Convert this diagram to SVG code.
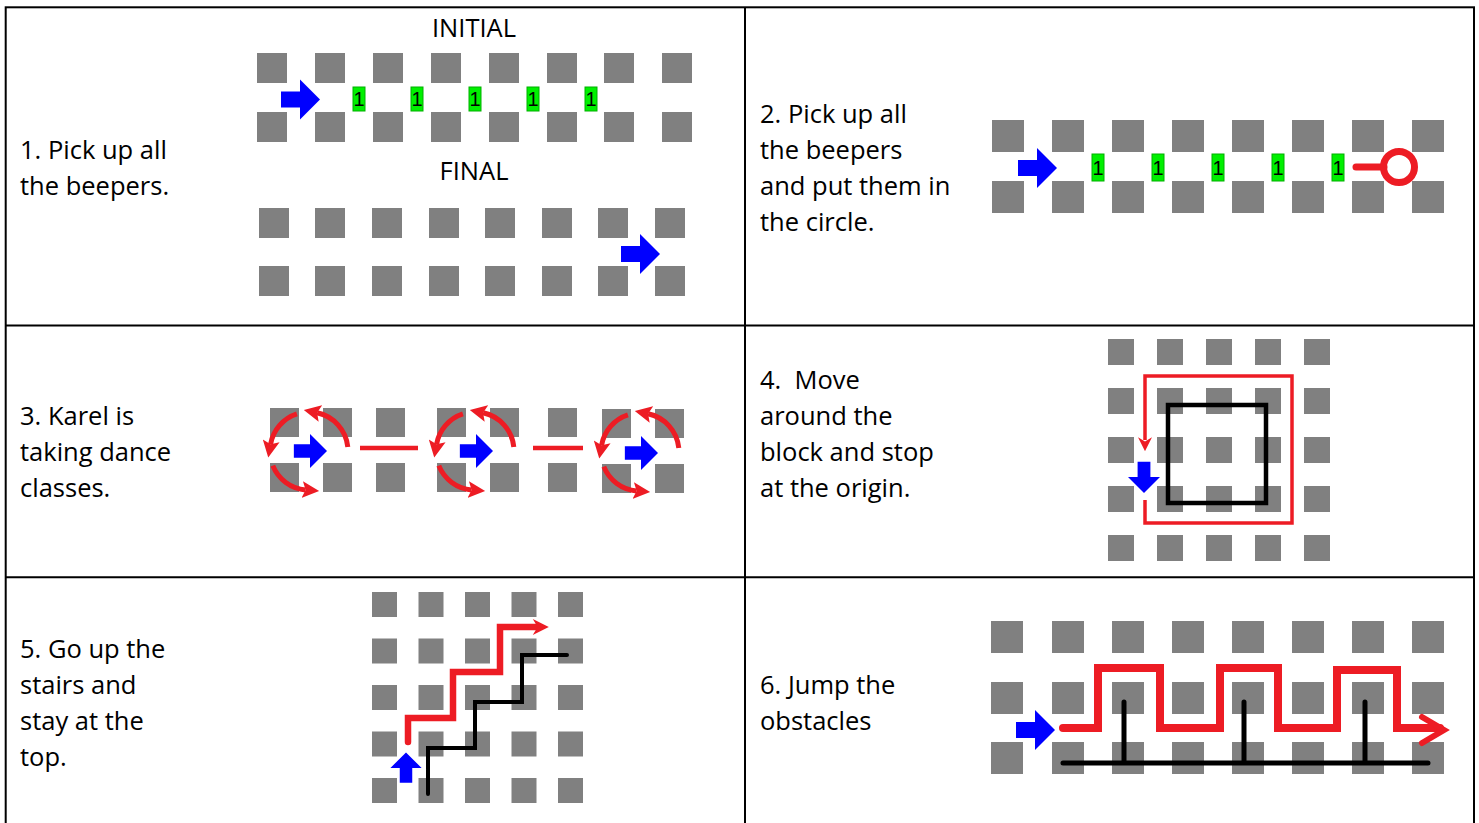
<svg xmlns="http://www.w3.org/2000/svg" width="1479" height="823" viewBox="0 0 1479 823">
<style>
.sq{fill:#808080}
.t{font-family:"Open Sans","Noto Sans",sans-serif;font-size:25.5px;fill:#000;white-space:pre}
.blue{fill:#0000ff;stroke:#fff;stroke-width:5;paint-order:stroke;stroke-linejoin:miter}
.bp{fill:#00f000;stroke:#00b000;stroke-width:1}
.bt{font-family:"Liberation Sans",sans-serif;font-size:20px;fill:#000;text-anchor:middle}
.red{fill:none;stroke:#ed1c24;stroke-linejoin:miter}
.blk{fill:none;stroke:#000;stroke-linecap:round;stroke-linejoin:miter}
.grid{stroke:#000;stroke-width:2;fill:none}
</style>
<defs>
<path id="arr" d="M-19,-8 H0 V-20 L20,0 L0,20 V8 H-19 Z"/>
<rect id="s30" width="30" height="30" class="sq"/>
<rect id="s32" width="32" height="32" class="sq"/>
<rect id="s29" width="29" height="29" class="sq"/>
<rect id="s26" width="26" height="26" class="sq"/>
<rect id="s25" width="25" height="25" class="sq"/>
<marker id="mh" viewBox="0 0 10 10" refX="2" refY="5" markerWidth="17" markerHeight="17" markerUnits="userSpaceOnUse" orient="auto"><path d="M0,0 L10,5 L0,10 L2,5 Z" fill="#ed1c24"/></marker>
<marker id="mh4" viewBox="0 0 10 10" refX="2" refY="5" markerWidth="14" markerHeight="16" markerUnits="userSpaceOnUse" orient="auto"><path d="M0,0 L10,5 L0,10 L3,5 Z" fill="#ed1c24"/></marker>
<marker id="mh5" viewBox="0 0 10 10" refX="2" refY="5" markerWidth="18" markerHeight="16" markerUnits="userSpaceOnUse" orient="auto"><path d="M0,0 L10,5 L0,10 L3,5 Z" fill="#ed1c24"/></marker>
<g id="spin">
<path class="red" stroke-width="5" d="M-12.1,-37.1 A39,39 0 0 0 -38.4,-6.8" marker-end="url(#mh)"/>
<path class="red" stroke-width="5" d="M38.8,-4.1 A39,39 0 0 0 8.1,-38.2" marker-end="url(#mh)"/>
<path class="red" stroke-width="5" d="M-36.2,14.6 A39,39 0 0 0 -3.4,38.9" marker-end="url(#mh)"/>
</g>
</defs>

<g id="table">
<rect class="grid" x="5.7" y="7.3" width="1468.3" height="830"/>
<line class="grid" x1="745" y1="7" x2="745" y2="823"/>
<line class="grid" x1="5" y1="325.5" x2="1475" y2="325.5"/>
<line class="grid" x1="5" y1="577.3" x2="1475" y2="577.3"/>
</g>

<g id="cell1">
<text class="t" x="20" y="159">1. Pick up all</text>
<text class="t" x="20" y="195">the beepers.</text>
<text class="t" x="474" y="37" text-anchor="middle">INITIAL</text>
<text class="t" x="474" y="180" text-anchor="middle">FINAL</text>
<g id="c1-initial">
<use href="#s30" x="257" y="53"/><use href="#s30" x="315" y="53"/><use href="#s30" x="373" y="53"/><use href="#s30" x="431" y="53"/><use href="#s30" x="489" y="53"/><use href="#s30" x="547" y="53"/><use href="#s30" x="604" y="53"/><use href="#s30" x="662" y="53"/>
<use href="#s30" x="257" y="112"/><use href="#s30" x="315" y="112"/><use href="#s30" x="373" y="112"/><use href="#s30" x="431" y="112"/><use href="#s30" x="489" y="112"/><use href="#s30" x="547" y="112"/><use href="#s30" x="604" y="112"/><use href="#s30" x="662" y="112"/>
<use href="#arr" class="blue" transform="translate(300,99.5)"/>
<rect class="bp" x="353" y="87" width="12" height="24"/><text class="bt" x="359" y="106">1</text>
<rect class="bp" x="411" y="87" width="12" height="24"/><text class="bt" x="417" y="106">1</text>
<rect class="bp" x="469" y="87" width="12" height="24"/><text class="bt" x="475" y="106">1</text>
<rect class="bp" x="527" y="87" width="12" height="24"/><text class="bt" x="533" y="106">1</text>
<rect class="bp" x="585" y="87" width="12" height="24"/><text class="bt" x="591" y="106">1</text>
</g>
<g id="c1-final">
<use href="#s30" x="259" y="208"/><use href="#s30" x="315" y="208"/><use href="#s30" x="372" y="208"/><use href="#s30" x="429" y="208"/><use href="#s30" x="485" y="208"/><use href="#s30" x="542" y="208"/><use href="#s30" x="598" y="208"/><use href="#s30" x="655" y="208"/>
<use href="#s30" x="259" y="266"/><use href="#s30" x="315" y="266"/><use href="#s30" x="372" y="266"/><use href="#s30" x="429" y="266"/><use href="#s30" x="485" y="266"/><use href="#s30" x="542" y="266"/><use href="#s30" x="598" y="266"/><use href="#s30" x="655" y="266"/>
<use href="#arr" class="blue" transform="translate(640,254)"/>
</g>
</g>

<g id="cell2">
<text class="t" x="760" y="123">2. Pick up all</text>
<text class="t" x="760" y="159">the beepers</text>
<text class="t" x="760" y="195">and put them in</text>
<text class="t" x="760" y="231">the circle.</text>
<use href="#s32" x="992" y="120"/><use href="#s32" x="1052" y="120"/><use href="#s32" x="1112" y="120"/><use href="#s32" x="1172" y="120"/><use href="#s32" x="1232" y="120"/><use href="#s32" x="1292" y="120"/><use href="#s32" x="1352" y="120"/><use href="#s32" x="1412" y="120"/>
<use href="#s32" x="992" y="181"/><use href="#s32" x="1052" y="181"/><use href="#s32" x="1112" y="181"/><use href="#s32" x="1172" y="181"/><use href="#s32" x="1232" y="181"/><use href="#s32" x="1292" y="181"/><use href="#s32" x="1352" y="181"/><use href="#s32" x="1412" y="181"/>
<use href="#arr" class="blue" transform="translate(1037,168)"/>
<rect class="bp" x="1092" y="154" width="12" height="27"/><text class="bt" x="1098" y="175">1</text>
<rect class="bp" x="1152" y="154" width="12" height="27"/><text class="bt" x="1158" y="175">1</text>
<rect class="bp" x="1212" y="154" width="12" height="27"/><text class="bt" x="1218" y="175">1</text>
<rect class="bp" x="1272" y="154" width="12" height="27"/><text class="bt" x="1278" y="175">1</text>
<rect class="bp" x="1332" y="154" width="12" height="27"/><text class="bt" x="1338" y="175">1</text>
<line class="red" x1="1356" y1="167" x2="1384" y2="167" stroke-width="7" stroke-linecap="round"/>
<circle class="red" cx="1399" cy="167" r="15.5" stroke-width="7"/>
</g>

<g id="cell3">
<text class="t" x="20" y="425">3. Karel is</text>
<text class="t" x="20" y="461">taking dance</text>
<text class="t" x="20" y="497">classes.</text>
<use href="#s29" x="270" y="408"/><use href="#s29" x="323" y="408"/><use href="#s29" x="376" y="408"/><use href="#s29" x="437" y="408"/><use href="#s29" x="490" y="408"/><use href="#s29" x="548" y="408"/><use href="#s29" x="602" y="409"/><use href="#s29" x="655" y="409"/>
<use href="#s29" x="270" y="463"/><use href="#s29" x="323" y="463"/><use href="#s29" x="376" y="463"/><use href="#s29" x="437" y="463"/><use href="#s29" x="490" y="463"/><use href="#s29" x="548" y="463"/><use href="#s29" x="602" y="464"/><use href="#s29" x="655" y="464"/>
<use href="#arr" class="blue" transform="translate(310,451) scale(0.85)"/>
<use href="#arr" class="blue" transform="translate(476,451) scale(0.85)"/>
<use href="#arr" class="blue" transform="translate(641,453) scale(0.85)"/>
<use href="#spin" transform="translate(309,451)"/>
<use href="#spin" transform="translate(475,451)"/>
<use href="#spin" transform="translate(640,452)"/>
<line class="red" x1="360" y1="448" x2="418" y2="448" stroke-width="4.5"/>
<line class="red" x1="533" y1="448" x2="583" y2="448" stroke-width="4.5"/>
</g>

<g id="cell4">
<text class="t" x="760" y="389">4.  Move</text>
<text class="t" x="760" y="425">around the</text>
<text class="t" x="760" y="461">block and stop</text>
<text class="t" x="760" y="497">at the origin.</text>
<use href="#s26" x="1108" y="339"/><use href="#s26" x="1157" y="339"/><use href="#s26" x="1206" y="339"/><use href="#s26" x="1255" y="339"/><use href="#s26" x="1304" y="339"/>
<use href="#s26" x="1108" y="388"/><use href="#s26" x="1157" y="388"/><use href="#s26" x="1206" y="388"/><use href="#s26" x="1255" y="388"/><use href="#s26" x="1304" y="388"/>
<use href="#s26" x="1108" y="437"/><use href="#s26" x="1157" y="437"/><use href="#s26" x="1206" y="437"/><use href="#s26" x="1255" y="437"/><use href="#s26" x="1304" y="437"/>
<use href="#s26" x="1108" y="486"/><use href="#s26" x="1157" y="486"/><use href="#s26" x="1206" y="486"/><use href="#s26" x="1255" y="486"/><use href="#s26" x="1304" y="486"/>
<use href="#s26" x="1108" y="535"/><use href="#s26" x="1157" y="535"/><use href="#s26" x="1206" y="535"/><use href="#s26" x="1255" y="535"/><use href="#s26" x="1304" y="535"/>
<rect x="1168" y="405" width="98" height="98" fill="none" stroke="#000" stroke-width="4.5"/>
<path class="red" stroke-width="3.5" d="M1145,500 V523 H1292 V376 H1145 V440" marker-end="url(#mh4)"/>
<use href="#arr" class="blue" transform="translate(1144,477) rotate(90) scale(0.8)"/>
</g>

<g id="cell5">
<text class="t" x="20" y="658">5. Go up the</text>
<text class="t" x="20" y="694">stairs and</text>
<text class="t" x="20" y="730">stay at the</text>
<text class="t" x="20" y="766">top.</text>
<use href="#s25" x="372" y="592"/><use href="#s25" x="418.5" y="592"/><use href="#s25" x="465" y="592"/><use href="#s25" x="511.5" y="592"/><use href="#s25" x="558" y="592"/>
<use href="#s25" x="372" y="638.5"/><use href="#s25" x="418.5" y="638.5"/><use href="#s25" x="465" y="638.5"/><use href="#s25" x="511.5" y="638.5"/><use href="#s25" x="558" y="638.5"/>
<use href="#s25" x="372" y="685"/><use href="#s25" x="418.5" y="685"/><use href="#s25" x="465" y="685"/><use href="#s25" x="511.5" y="685"/><use href="#s25" x="558" y="685"/>
<use href="#s25" x="372" y="731.5"/><use href="#s25" x="418.5" y="731.5"/><use href="#s25" x="465" y="731.5"/><use href="#s25" x="511.5" y="731.5"/><use href="#s25" x="558" y="731.5"/>
<use href="#s25" x="372" y="778"/><use href="#s25" x="418.5" y="778"/><use href="#s25" x="465" y="778"/><use href="#s25" x="511.5" y="778"/><use href="#s25" x="558" y="778"/>
<path class="blk" stroke-width="4" d="M428,794 V748 H475 V702 H522 V655 H567"/>
<path class="red" stroke-width="6.5" d="M408,742 V718 H453 V672 H500 V627 H536" marker-end="url(#mh5)" stroke-linecap="round"/>
<use href="#arr" class="blue" transform="translate(406,768) rotate(-90) scale(0.78)"/>
</g>

<g id="cell6">
<text class="t" x="760" y="694">6. Jump the</text>
<text class="t" x="760" y="730">obstacles</text>
<use href="#s32" x="991" y="621"/><use href="#s32" x="1052" y="621"/><use href="#s32" x="1112" y="621"/><use href="#s32" x="1172" y="621"/><use href="#s32" x="1232" y="621"/><use href="#s32" x="1292" y="621"/><use href="#s32" x="1352" y="621"/><use href="#s32" x="1412" y="621"/>
<use href="#s32" x="991" y="682"/><use href="#s32" x="1052" y="682"/><use href="#s32" x="1112" y="682"/><use href="#s32" x="1172" y="682"/><use href="#s32" x="1232" y="682"/><use href="#s32" x="1292" y="682"/><use href="#s32" x="1352" y="682"/><use href="#s32" x="1412" y="682"/>
<use href="#s32" x="991" y="742"/><use href="#s32" x="1052" y="742"/><use href="#s32" x="1112" y="742"/><use href="#s32" x="1172" y="742"/><use href="#s32" x="1232" y="742"/><use href="#s32" x="1292" y="742"/><use href="#s32" x="1352" y="742"/><use href="#s32" x="1412" y="742"/>
<path class="blk" stroke-width="5" d="M1063,763 H1428 M1124,702 V763 M1244,702 V763 M1365,702 V763"/>
<path class="red" stroke-width="8" d="M1063,728 H1098 V668 H1160 V728 H1220 V668 H1278 V728 H1337 V670 H1397 V728 H1440" stroke-linecap="round"/>
<polyline class="red" stroke-width="6" points="1422,717 1444,730 1422,743" stroke-linecap="round"/>
<use href="#arr" class="blue" transform="translate(1035,730)"/>
</g>
</svg>
